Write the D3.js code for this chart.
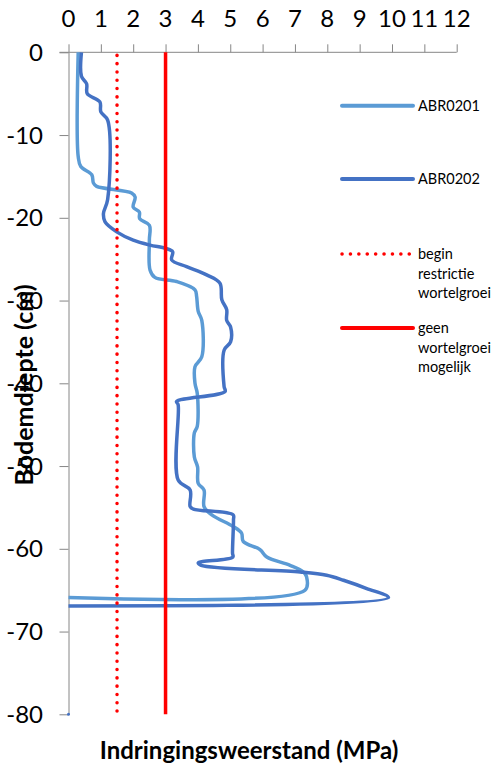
<!DOCTYPE html>
<html>
<head>
<meta charset="utf-8">
<script src="https://cdn.jsdelivr.net/npm/d3@7"></script>
<style>
  body { margin: 0; background: #fff; }
  text { font-family: Lato, "Open Sans", sans-serif; fill: #000; }
</style>
</head>
<body>
<div id="viz"></div>
<script>
// data: depth (cm) and penetration resistance (MPa)
var depth201 = [0, -12.6, -13.8, -14.8, -15.8, -16.2, -17.0, -17.5, -18.7, -19.3, -20.1, -20.9, -22.7, -26.3, -27.2, -27.7, -28.7,
  -29.5, -31.3, -32.4, -36.8, -38.0, -40.0, -41.2, -45.2, -46.0, -48.9, -50.1, -52.1, -52.9, -54.9, -55.9, -57.3, -58.1,
  -59.1, -60.1, -61.0, -62.0, -62.8, -63.4, -65.0, -65.9];
var mpa201 = [0.30, 0.30, 0.38, 0.72, 0.77, 0.87, 1.95, 2.06, 2.00, 2.19, 2.20, 2.50, 2.50, 2.52, 2.67, 3.34, 3.91,
  3.96, 4.01, 4.12, 4.12, 3.91, 3.91, 3.98, 3.98, 3.89, 3.89, 3.99, 4.01, 4.19, 4.19, 4.43, 5.09, 5.35,
  5.40, 5.92, 6.13, 6.85, 7.26, 7.36, 7.31, 0];

var depth202 = [0, -2.9, -3.8, -5.0, -6.0, -7.2, -8.2, -17.8, -19.5, -20.5, -21.7, -22.7, -23.3, -23.7, -24.1, -25.1, -25.9,
  -26.9, -27.9, -29.9, -31.1, -32.4, -33.2, -35.0, -36.0, -40.4, -41.0, -42.2, -42.6, -51.7, -52.9, -54.9, -55.2, -55.9,
  -56.5, -60.5, -61.0, -61.7, -62.0, -62.8, -63.2, -63.8, -64.8, -65.9, -66.9];
var mpa202 = [0.40, 0.40, 0.56, 0.58, 0.97, 1.00, 1.21, 1.21, 1.08, 1.13, 1.49, 2.00, 2.52, 3.01, 3.22, 3.19, 3.65,
  4.27, 4.68, 4.74, 4.89, 4.89, 5.01, 5.01, 4.81, 4.81, 4.84, 3.34, 3.39, 3.39, 3.76, 3.76, 3.86, 5.09,
  5.10, 5.07, 5.08, 4.01, 4.10, 7.16, 7.98, 8.50, 9.22, 9.89, 0];

var restrictStart = 1.5;   // begin restrictie wortelgroei
var noGrowth = 3;          // geen wortelgroei mogelijk
var lonePoint = [0, -80];

var xTicks = d3.range(0, 13);
var yTicks = d3.range(0, -81, -10);

var legendItems = [
  {lines: ["ABR0201"], color: "#5B9BD5", dotted: false},
  {lines: ["ABR0202"], color: "#4472C4", dotted: false},
  {lines: ["begin", "restrictie", "wortelgroei"], color: "#FF0000", dotted: true},
  {lines: ["geen", "wortelgroei", "mogelijk"], color: "#FF0000", dotted: false}
];

var width = 495, height = 764;

var svg = d3.select("#viz")
  .append("svg")
    .attr("width", width)
    .attr("height", height);

var x = d3.scaleLinear().domain([0, 12]).range([68.5, 456.7]);
var y = d3.scaleLinear().domain([0, -80]).range([52.3, 714.3]);

// axes
var xAxis = svg.append("g")
  .attr("transform", "translate(0," + y(0) + ")")
  .call(d3.axisTop(x).tickValues(xTicks).tickSize(8).tickSizeOuter(0).tickFormat(""));
xAxis.select(".domain").attr("d", "M" + (x(0) - 9) + ",0H" + x(12));

var yAxis = svg.append("g")
  .attr("transform", "translate(" + x(0) + ",0)")
  .call(d3.axisLeft(y).tickValues(yTicks).tickSize(9).tickSizeOuter(0).tickFormat(""));

svg.selectAll(".domain").attr("stroke", "#868686");
svg.selectAll(".tick line").attr("stroke", "#868686");

// tick labels
svg.selectAll(".xlab")
  .data(xTicks)
  .enter().append("text")
    .attr("x", function(d) { return x(d); })
    .attr("y", 27)
    .attr("text-anchor", "middle")
    .style("font-size", "24px")
    .text(function(d) { return d; });

svg.selectAll(".ylab")
  .data(yTicks)
  .enter().append("text")
    .attr("x", 43)
    .attr("y", function(d) { return y(d) + 8.5; })
    .attr("text-anchor", "end")
    .style("font-size", "24px")
    .text(function(d) { return d; });

// series
var line = d3.line()
  .x(function(d) { return x(d[0]); })
  .y(function(d) { return y(d[1]); })
  .curve(d3.curveCatmullRom.alpha(0.5));

svg.append("path")
  .datum(d3.zip(mpa201, depth201))
  .attr("d", line)
  .attr("fill", "none")
  .attr("stroke", "#5B9BD5")
  .attr("stroke-width", 3.5)
  .attr("stroke-linejoin", "round");

svg.append("path")
  .datum(d3.zip(mpa202, depth202))
  .attr("d", line)
  .attr("fill", "none")
  .attr("stroke", "#4472C4")
  .attr("stroke-width", 3.5)
  .attr("stroke-linejoin", "round");

svg.append("circle")
  .attr("cx", x(lonePoint[0]))
  .attr("cy", y(lonePoint[1]))
  .attr("r", 1.5)
  .attr("fill", "#4472C4");

// threshold lines
svg.append("line")
  .attr("x1", x(restrictStart)).attr("x2", x(restrictStart))
  .attr("y1", y(0) + 3).attr("y2", y(-80))
  .attr("stroke", "#FF0000")
  .attr("stroke-width", 3.5)
  .attr("stroke-linecap", "round")
  .attr("stroke-dasharray", "0.1,8.2");

svg.append("line")
  .attr("x1", x(noGrowth)).attr("x2", x(noGrowth))
  .attr("y1", y(0)).attr("y2", y(-80))
  .attr("stroke", "#FF0000")
  .attr("stroke-width", 3.5);

// legend
var legendY = [105.7, 179, 254, 328];
var legend = svg.selectAll(".legend")
  .data(legendItems)
  .enter().append("g")
    .attr("transform", function(d, i) { return "translate(342," + legendY[i] + ")"; });

legend.append("line")
  .attr("x1", 0).attr("x2", 71)
  .attr("stroke", function(d) { return d.color; })
  .attr("stroke-width", function(d) { return d.dotted ? 3.5 : 4; })
  .attr("stroke-linecap", "round")
  .attr("stroke-dasharray", function(d) { return d.dotted ? "0.1,8.3" : null; });

legend.each(function(d) {
  var t = d3.select(this).append("text")
    .attr("x", 76)
    .attr("y", 5)
    .style("font-size", "14.5px");
  d.lines.forEach(function(s, k) {
    t.append("tspan").attr("x", 76).attr("dy", k ? 19.6 : 0).text(s);
  });
});

// axis titles
svg.append("text")
  .attr("x", 249)
  .attr("y", 759)
  .attr("text-anchor", "middle")
  .style("font-size", "24px")
  .style("font-weight", "bold")
  .text("Indringingsweerstand (MPa)");

svg.append("text")
  .attr("transform", "translate(33,385) rotate(-90)")
  .attr("text-anchor", "middle")
  .style("font-size", "25px")
  .style("font-weight", "bold")
  .text("Bodemdiepte (cm)");
</script>
</body>
</html>
